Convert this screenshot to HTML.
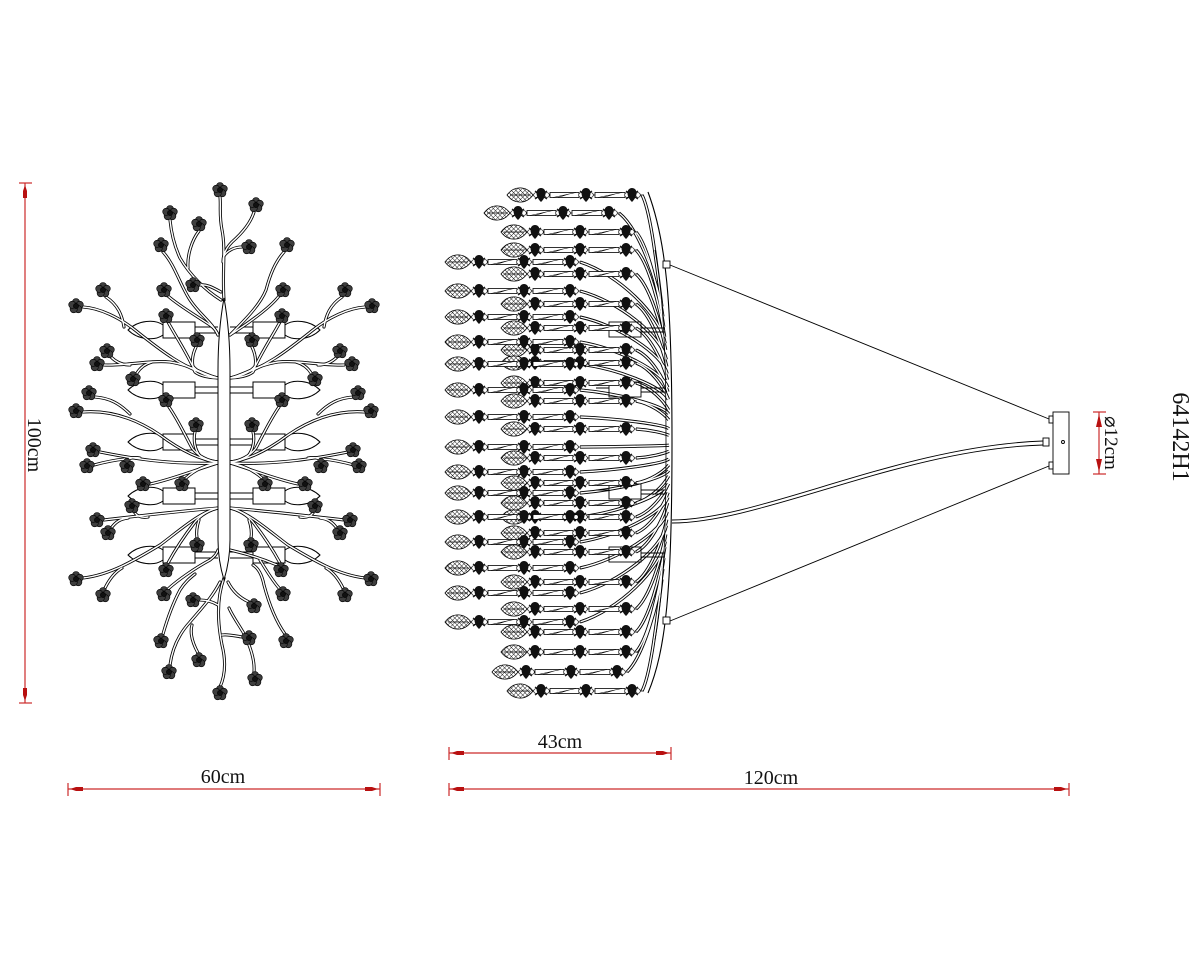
<!DOCTYPE html>
<html><head><meta charset="utf-8"><style>html,body{margin:0;padding:0;background:#fff}svg{display:block}</style></head>
<body>
<svg id="s" width="1200" height="960" viewBox="0 0 1200 960" xmlns="http://www.w3.org/2000/svg">
<defs>
<pattern id="mesh" width="3.2" height="3.2" patternUnits="userSpaceOnUse" patternTransform="rotate(45)">
<rect width="3.2" height="3.2" fill="#fff"/><path d="M0,0H3.2M0,0V3.2" stroke="#000" stroke-width="0.8"/>
</pattern>
</defs>
<rect width="1200" height="960" fill="#fff"/>
<g id="g"></g>

<!-- red dimensions -->
<g stroke="#cc2a2a" stroke-width="1.2" fill="none">
  <line x1="25" y1="183" x2="25" y2="703"/>
  <line x1="19" y1="183" x2="32" y2="183"/>
  <line x1="19" y1="703" x2="32" y2="703"/>
  <line x1="68" y1="789" x2="380" y2="789"/>
  <line x1="68" y1="783" x2="68" y2="796"/>
  <line x1="380" y1="783" x2="380" y2="796"/>
  <line x1="449" y1="753" x2="671" y2="753"/>
  <line x1="449" y1="747" x2="449" y2="760"/>
  <line x1="671" y1="747" x2="671" y2="760"/>
  <line x1="449" y1="789" x2="1069" y2="789"/>
  <line x1="449" y1="783" x2="449" y2="796"/>
  <line x1="1069" y1="783" x2="1069" y2="796"/>
  <line x1="1099" y1="412" x2="1099" y2="474"/>
  <line x1="1093" y1="412" x2="1106" y2="412"/>
  <line x1="1093" y1="474" x2="1106" y2="474"/>
</g>
<g fill="#b81010">
  <polygon points="25,185 23,191 23,198 27,198 27,191"/>
  <polygon points="25,701 23,695 23,688 27,688 27,695"/>
  <polygon points="70,789 76,787 83,787 83,791 76,791"/>
  <polygon points="378,789 372,787 365,787 365,791 372,791"/>
  <polygon points="451,753 457,751 464,751 464,755 457,755"/>
  <polygon points="669,753 663,751 656,751 656,755 663,755"/>
  <polygon points="451,789 457,787 464,787 464,791 457,791"/>
  <polygon points="1067,789 1061,787 1054,787 1054,791 1061,791"/>
  <polygon points="1099,414 1096,427 1102,427"/>
  <polygon points="1099,472 1096,459 1102,459"/>
</g>
<g font-family="'Liberation Serif','DejaVu Serif',serif" fill="#111">
  <text x="0" y="0" transform="translate(28,445) rotate(90)" text-anchor="middle" font-size="20">100cm</text>
  <text x="223" y="783" text-anchor="middle" font-size="20">60cm</text>
  <text x="560" y="748" text-anchor="middle" font-size="20">43cm</text>
  <text x="771" y="784" text-anchor="middle" font-size="20">120cm</text>
  <text x="0" y="0" transform="translate(1105,443) rotate(90)" text-anchor="middle" font-size="19">⌀12cm</text>
  <text x="0" y="0" transform="translate(1173,437) rotate(90)" text-anchor="middle" font-size="24">64142H1</text>
</g>
</svg>
<script>
(function(){
var out=[];
function mir(d){return d.replace(/(-?\d+(?:\.\d+)?),(-?\d+(?:\.\d+)?)/g,function(m,a,b){return (448-parseFloat(a))+','+b;});}
/* ---------- LEFT VIEW ---------- */
var rows=[330,390,442,496,555];
var lamps='';
rows.forEach(function(yc){
  var lens='M163,'+(yc-5)+' C155,'+(yc-11)+' 138,'+(yc-10)+' 128,'+yc+' C138,'+(yc+10)+' 155,'+(yc+11)+' 163,'+(yc+5);
  lamps+='<path d="'+lens+'"/><path d="'+mir(lens)+'"/>';
  lamps+='<rect x="163" y="'+(yc-8)+'" width="32" height="16" fill="#fff"/><rect x="253" y="'+(yc-8)+'" width="32" height="16" fill="#fff"/>';
  lamps+='<path d="M195,'+(yc-3)+' H218 M195,'+(yc+3)+' H218 M230,'+(yc-3)+' H253 M230,'+(yc+3)+' H253"/>';
});
out.push('<g fill="none" stroke="#000" stroke-width="1">'+lamps+'</g>');

var sym=[
"M83,307 C100,308 120,318 135,330 C160,350 185,370 218,378",
"M106,297 C118,305 122,315 124,327",
"M168,322 C175,335 185,350 192,365 C197,372 205,376 218,378",
"M196,347 C192,355 191,365 195,372 C200,376 210,378 218,378",
"M104,365 C125,366 150,360 170,362 C190,365 205,375 218,378",
"M111,357 C116,362 122,365 130,365",
"M137,373 C140,368 145,364 152,362",
"M83,412 C110,410 135,418 160,435 C180,450 200,460 218,462",
"M95,397 C110,398 120,404 130,414",
"M169,407 C178,420 185,435 192,448 C198,456 208,461 218,462",
"M195,432 C193,440 195,450 200,456 C205,460 212,462 218,462",
"M100,452 C130,458 170,465 218,463",
"M94,465 C105,462 115,460 125,459",
"M127,460 C130,458 135,457 140,458",
"M150,484 C170,480 195,470 218,463",
"M186,478 C195,470 205,465 218,463",
"M104,520 C130,517 170,512 218,508",
"M112,527 C116,522 120,519 128,518",
"M135,513 C138,517 142,518 148,517",
"M83,578 C110,575 135,560 160,545 C180,530 200,512 218,508",
"M105,588 C110,578 115,572 122,568",
"M168,563 C175,550 185,535 195,522 C202,514 210,510 218,508",
"M197,538 C196,532 197,526 199,520"
];
var single=[
"M224,300 C222,270 226,250 222,230 C219,215 221,205 220,197",
"M221,300 C205,290 190,275 180,258 C174,245 171,230 170,220",
"M199,231 C192,240 187,255 188,268",
"M163,252 C175,265 180,285 190,300 C200,315 212,322 218,335",
"M200,285 C206,284 212,287 221,292",
"M168,296 C178,305 195,315 210,325 C214,328 217,331 218,335",
"M254,212 C250,225 240,235 232,242 C226,248 223,255 223,262",
"M242,247 C235,247 228,250 224,256",
"M284,252 C275,262 270,275 266,290 C260,305 245,320 230,335",
"M279,296 C270,308 250,322 230,335",
"M224,578 C216,600 218,625 222,645 C227,665 224,678 220,687",
"M168,589 C178,580 195,568 210,560 C214,557 217,554 218,550",
"M200,600 C207,600 213,602 218,605",
"M163,634 C167,620 172,605 180,590 C185,582 190,578 195,574",
"M170,665 C172,650 178,635 190,622 C200,610 212,598 220,582",
"M198,653 C192,642 190,632 192,625",
"M277,565 C265,560 250,555 238,552 L230,550",
"M279,588 C272,580 266,570 260,560",
"M285,634 C275,620 268,600 264,585 C262,575 258,568 253,565",
"M249,602 C240,598 233,592 228,582",
"M242,637 C235,636 228,634 222,635",
"M254,672 C255,660 250,645 243,632 C237,622 232,615 229,608"
];
var all=single.slice();
sym.forEach(function(d){all.push(d);all.push(mir(d));});
var bk='',wh='';
all.forEach(function(d){bk+='<path d="'+d+'"/>';wh+='<path d="'+d+'"/>';});
out.push('<g fill="none" stroke="#000" stroke-width="3.1" stroke-linecap="round">'+bk+'</g>');
out.push('<g fill="none" stroke="#fff" stroke-width="1.4" stroke-linecap="round">'+wh+'</g>');
// stem
out.push('<path d="M224,298 C220,320 218,345 218,370 L218,540 C218,555 221,570 224,580 C227,570 230,555 230,540 L230,370 C230,345 228,320 224,298 Z" fill="#fff" stroke="#000" stroke-width="1"/>');
// flowers
var fl=[[220,190],[170,213],[256,205],[199,224],[161,245],[249,247],[287,245],[193,285],[164,290],[283,290],[103,290],[76,306],[345,290],[372,306],[166,316],[282,316],[197,340],[252,340],
[107,351],[97,364],[133,379],[340,351],[352,364],[315,379],[166,400],[282,400],[89,393],[76,411],[358,393],[371,411],[196,425],[252,425],[93,450],[87,466],[127,466],[353,450],[359,466],[321,466],
[143,484],[182,484],[265,484],[305,484],[132,506],[315,506],[97,520],[108,533],[350,520],[340,533],[197,545],[251,545],[166,570],[281,570],[76,579],[371,579],[103,595],[345,595],
[164,594],[283,594],[193,600],[254,606],[161,641],[286,641],[249,638],[199,660],[169,672],[255,679],[220,693]];
var fs='';
fl.forEach(function(p){var x=p[0],y=p[1];
  for(var i=0;i<5;i++){var a=(-90+72*i)*Math.PI/180;fs+='<circle cx="'+(x+3.9*Math.cos(a)).toFixed(1)+'" cy="'+(y+3.9*Math.sin(a)).toFixed(1)+'" r="3.6"/>';}
  fs+='<circle cx="'+x+'" cy="'+y+'" r="2.6" fill="#111"/>';
});
out.push('<g fill="#3e3e3e" stroke="#000" stroke-width="0.6">'+fs+'</g>');

/* ---------- RIGHT VIEW ---------- */
function xf(y){var t=(y-443)/250;return 672-24*t*t;}
var longY=[262,291,317,342,364,390,417,447,472,493,517,542,568,593,622];
var shortS=[[195,520],[213,497],[232,514],[250,514],[274,514],[304,514],[328,514],[350,514],[363,514],[383,514],[401,514],[429,514],[458,514],[483,514],[503,514],[517,514],[533,514],[552,514],[582,514],[609,514],[632,514],[652,514],[672,505],[691,520]];
var strands=[];
shortS.forEach(function(s){strands.push([s[1],s[0]]);});
longY.forEach(function(y){strands.push([458,y]);});
// wires
var wb='',ww='';
strands.forEach(function(s){
  var c=s[0],y=s[1],ex=c+122;
  var yt=y+(443-y)*0.45, xt=xf(yt)-3;
  var d='M'+ex+','+y+' C'+(ex+(xt-ex)*0.45).toFixed(1)+','+(y+(yt-y)*0.15).toFixed(1)+' '+(xt-5).toFixed(1)+','+(yt-(yt-y)*0.35).toFixed(1)+' '+xt.toFixed(1)+','+yt.toFixed(1);
  wb+='<path d="'+d+'"/>';ww+='<path d="'+d+'"/>';
});
out.push('<g fill="none" stroke="#000" stroke-width="3.2">'+wb+'</g>');
out.push('<g fill="none" stroke="#fff" stroke-width="1.4">'+ww+'</g>');
// frame
out.push('<path d="M648,192 C666,240 672,300 672,443 C672,590 666,650 648,693" fill="none" stroke="#000" stroke-width="1.1"/>');
out.push('<path d="M655,250 C664,300 666,360 666,443 C666,530 664,590 655,640" fill="none" stroke="#000" stroke-width="0.8"/>');
// lamp boxes
var lb='';
[330,390,492,555].forEach(function(yc){
  lb+='<rect x="609" y="'+(yc-8)+'" width="32" height="15" fill="none"/><path d="M641,'+(yc-2)+' H665 M641,'+(yc+2)+' H665 M596,'+(yc-2)+' H609"/>';
});
out.push('<g fill="none" stroke="#000" stroke-width="0.9">'+lb+'</g>');
// strands
function bar(x1,x2,y){return '<rect x="'+x1+'" y="'+(y-2.5)+'" width="'+(x2-x1)+'" height="5" fill="#fff" stroke="#000" stroke-width="0.8"/><path d="M'+(x1+3)+','+(y+2.5)+' L'+(x2-3)+','+(y-2.5)+' M'+(x1+8)+','+(y+2.5)+' L'+(x2-10)+','+(y-1)+'" stroke="#000" stroke-width="0.6"/>';}
function bead(x,y){return '<path d="M'+x+','+(y-7)+' C'+(x+6.5)+','+(y-6.5)+' '+(x+5.5)+','+(y+2)+' '+x+','+(y+7)+' C'+(x-5.5)+','+(y+2)+' '+(x-6.5)+','+(y-6.5)+' '+x+','+(y-7)+'Z" fill="#111"/><path d="M'+(x-6)+','+(y-4)+' L'+(x+6)+','+(y+4)+' M'+(x-6)+','+(y+4)+' L'+(x+6)+','+(y-4)+'" stroke="#111" stroke-width="1.3"/>';}
var ss='';
strands.forEach(function(s){
  var c=s[0],y=s[1];
  ss+='<line x1="'+(c+13)+'" y1="'+y+'" x2="'+(c+123)+'" y2="'+y+'" stroke="#000" stroke-width="0.7"/>';
  ss+='<path d="M'+(c-13)+','+y+' C'+(c-6)+','+(y-9.5)+' '+(c+6)+','+(y-9.5)+' '+(c+13)+','+y+' C'+(c+6)+','+(y+9.5)+' '+(c-6)+','+(y+9.5)+' '+(c-13)+','+y+'Z" fill="url(#mesh)" stroke="#000" stroke-width="0.8"/>';
  ss+='<line x1="'+(c-10)+'" y1="'+y+'" x2="'+(c+10)+'" y2="'+y+'" stroke="#000" stroke-width="0.8"/>';
  ss+=bar(c+30,c+59,y)+bar(c+75,c+105,y);
  [16,27,61,71,107,118].forEach(function(d){ss+='<circle cx="'+(c+d)+'" cy="'+y+'" r="2.3" fill="#fff" stroke="#000" stroke-width="0.7"/>';});
  [21,66,112].forEach(function(d){ss+=bead(c+d,y);});
});
out.push('<g>'+ss+'</g>');
// suspension
out.push('<g fill="none" stroke="#000" stroke-width="0.9">'+
 '<line x1="670" y1="265" x2="1049" y2="419"/><line x1="670" y1="621" x2="1049" y2="466"/>'+
 '<rect x="663" y="261" width="7" height="7" fill="#fff"/><rect x="663" y="617" width="7" height="7" fill="#fff"/>'+
 '<path d="M672,520 C760,520 900,446 1043,441"/><path d="M672,523 C762,523 902,449 1043,445"/>'+
 '<rect x="1053" y="412" width="16" height="62" fill="#fff"/>'+
 '<circle cx="1063" cy="442" r="1.5"/>'+
 '<rect x="1043" y="438" width="6" height="8" fill="#fff"/>'+
 '<rect x="1049" y="416" width="4" height="7" fill="#fff"/><rect x="1049" y="462" width="4" height="7" fill="#fff"/>'+
 '</g>');
document.getElementById('g').innerHTML=out.join('');
})();
</script>
</body></html>
